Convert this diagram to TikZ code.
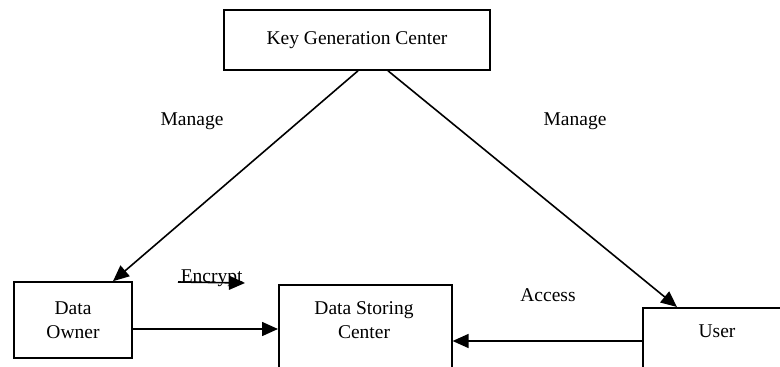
\documentclass[tikz,border=0pt]{standalone}
\usepackage{fontspec}
\setmainfont{Liberation Serif}
\usetikzlibrary{arrows.meta}

\begin{document}
\begin{tikzpicture}[x=1pt,y=-1pt,line width=1.6pt,
    font=\fontsize{19.5}{24}\selectfont,
    box/.style={draw,rectangle,inner sep=0pt},
    txt/.style={align=center,inner sep=0pt},
    arr/.style={-{Triangle[length=16pt,width=14pt]}}]
  \useasboundingbox (0,0) rectangle (780,367);
  \clip (0,0) rectangle (780,367);
  % boxes
  \node[box,minimum width=266pt,minimum height=60pt] (kgc) at (357,40) {Key Generation Center};
  \node[box,txt,minimum width=118pt,minimum height=76pt] (owner) at (73,320) {Data\\Owner};
  \node[box,minimum width=173pt,minimum height=120pt,anchor=north west] (dsc) at (278,284) {};
  \node[txt] (dsctext) at (364,320) {Data Storing\\Center};
  \node[box,minimum width=150pt,minimum height=120pt,anchor=north west] (user) at (642,307) {};
  \node[txt] (usertext) at (717,331) {User};
  % labels
  \node[txt] (manl) at (192,121) {Manage};
  \node[txt] (manr) at (575,121) {Manage};
  \node[txt] (access) at (548,295) {Access};
  \node[txt,anchor=base west] (enc) at (180,282) {Encrypt};
  \coordinate (encend) at (245,283);
  % connectors
  \draw[arr] ([xshift=1pt]kgc.south) -- ([xshift=40pt]owner.north);
  \draw[arr] ([xshift=31pt]kgc.south) -- ([xshift=35pt]user.north west);
  \draw[arr] ([xshift=-2pt]enc.base west) -- (encend);
  \draw[arr] (owner.east |- 0,329) -- (dsc.west |- 0,329);
  \draw[arr] (user.west |- 0,341) -- (dsc.east |- 0,341);
\end{tikzpicture}
\end{document}
